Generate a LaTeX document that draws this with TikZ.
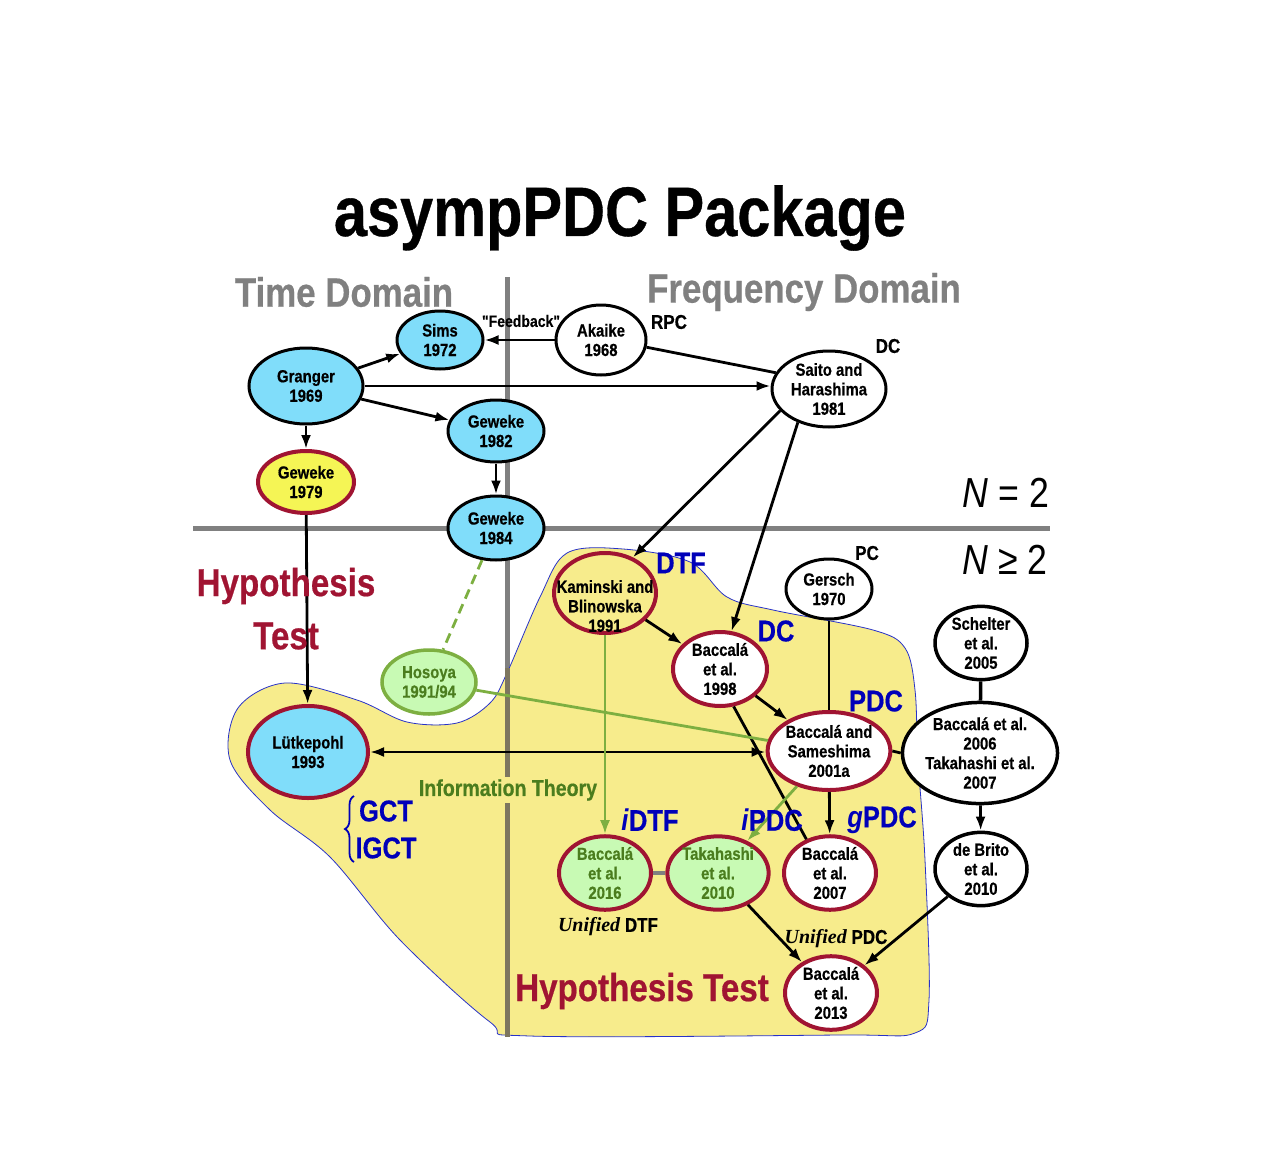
\documentclass[tikz,border=0pt]{standalone}
\usepackage{fontspec}
\setmainfont{Liberation Sans}[FakeStretch=0.85,BoldFeatures={FakeBold=0.5}]
\newfontfamily\plainf{Liberation Sans}[FakeStretch=0.85,Ligatures=TeXOff,BoldFeatures={FakeBold=0.5}]
\newfontfamily\uniserif{Liberation Serif}
\usetikzlibrary{shapes.geometric,arrows.meta,decorations.pathreplacing}
\definecolor{cyanc}{RGB}{128,221,250}
\definecolor{redc}{RGB}{160,20,50}
\definecolor{yelc}{RGB}{245,245,85}
\definecolor{regc}{RGB}{247,236,140}
\definecolor{grnf}{RGB}{200,250,180}
\definecolor{grnd}{RGB}{125,175,65}
\definecolor{grnt}{RGB}{75,125,30}
\definecolor{bluec}{RGB}{0,0,185}
\definecolor{grayc}{RGB}{128,128,128}
\definecolor{olivec}{RGB}{125,118,95}
\definecolor{bordc}{RGB}{40,50,200}
\begin{document}
\begin{tikzpicture}[x=1pt,y=-1pt,
  nd/.style={ellipse,draw=black,line width=3pt,inner sep=0pt,align=center,
    font=\fontsize{17.5}{19.5}\selectfont\bfseries},
  cy/.style={nd,fill=cyanc},
  wh/.style={nd,fill=white},
  rb/.style={draw=redc,line width=4pt},
  gn/.style={nd,fill=grnf,text=grnt},
  sz/.style 2 args={minimum width=#1pt,minimum height=#2pt},
  ln/.style={line width=2.8pt},
  arr/.style={line width=2.8pt,-{Latex[length=14pt,width=10pt]}},
  garr/.style={line width=2.8pt,draw=grnd,-{Latex[length=14pt,width=10pt,fill=grnd]}},
  gtip/.style={line width=2.8pt,-{Latex[length=14pt,width=10pt,fill=grnd]}},
  lab/.style={font=\fontsize{20}{22}\selectfont\bfseries,inner sep=0pt},
  blab/.style={font=\fontsize{30}{32}\selectfont\bfseries,text=bluec,inner sep=0pt},
  rlab/.style={font=\fontsize{39}{44}\selectfont\bfseries,text=redc,inner sep=0pt},
  hlab/.style={font=\fontsize{41}{44}\selectfont\bfseries,text=grayc,inner sep=0pt},
  nlab/.style={font=\fontsize{42}{44}\selectfont,inner sep=0pt},
  ulab/.style={font=\fontsize{20}{22}\selectfont\bfseries,inner sep=0pt}
]
\useasboundingbox (0,0) rectangle (1277,1175);

% domain separators
\draw[grayc,line width=5pt] (507,277) -- (507,1037);
\draw[grayc,line width=5pt] (193,528) -- (1050,528);

% yellow region
\filldraw[fill=regc,draw=bordc,line width=0.8pt] plot[smooth cycle,tension=0.55] coordinates {
 (567,553) (623,549) (690,562) (727,597) (773,610) (873,630) (905,648) (915,690)
 (918,760) (925,860) (929,1000) (915,1033) (840,1035) (530,1036) (490,1022)
 (400,940) (330,857) (270,810) (230,760) (238,708) (285,683) (357,700)
 (407,722) (457,723) (490,703) (507,673) (540,597)};
\draw[olivec,line width=5pt] (507,668) -- (507,1037);

% nodes
\node[cy,sz={86}{58}] (sims) at (440,340) {Sims\\1972};
\node[wh,sz={90}{70}] (aka) at (601,340) {Akaike\\1968};
\node[cy,sz={114}{76}] (gra) at (306,386) {Granger\\1969};
\node[wh,sz={114}{76}] (sai) at (829,389) {Saito and\\Harashima\\1981};
\node[cy,sz={96}{62}] (g82) at (496,431) {Geweke\\1982};
\node[nd,fill=yelc,rb,sz={96}{62}] (g79) at (306,482) {Geweke\\1979};
\node[cy,sz={96}{64}] (g84) at (496,528) {Geweke\\1984};
\node[nd,fill=regc,rb,sz={102}{80}] (kam) at (605,593) {};
\node[nd,draw=none,fill=none] (kamt) at (605,606) {Kaminski and\\Blinowska\\1991};
\node[wh,sz={86}{60}] (ger) at (829,589) {Gersch\\1970};
\node[wh,rb,sz={94}{74}] (b98) at (720,669) {Baccalá\\et al.\\1998};
\node[wh,line width=3.5pt,sz={92}{72}] (sch) at (981,643) {Schelter\\et al.\\2005};
\node[gn,draw=grnd,line width=3.5pt,sz={94}{64}] (hos) at (429,682) {Hosoya\\1991/94};
\node[cy,rb,sz={120}{92}] (lut) at (308,752) {Lütkepohl\\1993};
\node[wh,rb,sz={106}{78}] (sam) at (829,751) {Baccalá and\\Sameshima\\2001a};
\node[wh,line width=3.5pt,sz={126}{94}] (b06) at (980,753) {Baccalá et al.\\2006\\Takahashi et al.\\2007};
\node[gn,rb,sz={92}{72}] (b16) at (605,873) {Baccalá\\et al.\\2016};
\node[gn,rb,sz={92}{72}] (tak) at (718,873) {Takahashi\\et al.\\2010};
\node[wh,rb,sz={92}{72}] (b07) at (830,873) {Baccalá\\et al.\\2007};
\node[wh,line width=3.5pt,sz={92}{70}] (dbr) at (981,869) {de Brito\\et al.\\2010};
\node[wh,rb,sz={92}{72}] (b13) at (831,993) {Baccalá\\et al.\\2013};

% edges
\draw[gtip] (gra) -- (sims);
\draw[gtip] (aka) -- (sims);
\draw[ln] (aka.-9) -- (sai.163);
\draw[arr] (gra.east) -- (gra.east -| sai.west);
\draw[arr] (gra) -- (g82);
\draw[arr] (gra) -- (g79);
\draw[arr] (g82) -- (g84);
\draw[arr] (g79) -- (lut);
\draw[arr] (sai.-156) -- (kam.52);
\draw[arr] (sai.-133) -- (b98.73);
\draw[arr] (kam) -- (b98);
\draw[arr] (b98) -- (sam);
\draw[ln] (b98.-70) -- (b07.125);
\draw[ln] (ger) -- (sam);
\draw[line width=2.8pt,{Latex[length=14pt,width=10pt]}-{Latex[length=14pt,width=10pt]}] (lut.east) -- (lut.east -| sam.west);
\draw[ln] (sam.east) -- (b06.west);
\draw[arr] (sam) -- (b07);
\draw[garr] (sam) -- (tak);
\draw[ln,draw=grnd] (hos) -- (sam);
\draw[ln,draw=grnd,dash pattern=on 10pt off 6pt] (g84) -- (hos);
\draw[garr] (kam) -- (b16);
\draw[line width=3.5pt,draw=grayc] (b16) -- (tak);
\draw[arr] (tak) -- (b13);
\draw[arr] (dbr) -- (b13);
\draw[line width=3.5pt] (sch) -- (b06);
\draw[arr] (b06) -- (dbr);

% labels
\node[font=\fontsize{70}{74}\selectfont\bfseries,inner sep=0pt] (title) at (620,218) {asympPDC Package};
\node[hlab] (td) at (344,292) {Time Domain};
\node[hlab] (fd) at (804,292) {Frequency Domain};
\node[font=\plainf\fontsize{16.5}{18}\selectfont\bfseries,inner sep=0pt] (fb) at (521,321) {"Feedback"};
\node[lab] (rpc) at (669,322) {RPC};
\node[lab] (dc1) at (888,346) {DC};
\node[lab] (pc) at (867,553) {PC};
\node[nlab] (n2) at (1006,493) {\textit{N} = 2};
\node[nlab] (ng2) at (1005,560) {\textit{N} ≥ 2};
\node[rlab] (hy1) at (286,586) {Hypothesis};
\node[rlab] (hy2) at (286,636) {Test};
\node[rlab] (hy3) at (642,991) {Hypothesis Test};
\node[blab] (dtf) at (681,563) {DTF};
\node[blab] (dc2) at (776,631) {DC};
\node[blab] (pdc) at (876,701) {PDC};
\node[blab] (idtf) at (650,820) {\textit{i}DTF};
\node[blab] (ipdc) at (772,820) {\textit{i}PDC};
\node[blab] (gpdc) at (882,820) {\textit{g}PDC};
\node[font=\fontsize{23}{25}\selectfont\bfseries,text=grnt,fill=regc,inner sep=2pt] (it) at (508,790) {Information Theory};
\node[blab] (gct) at (386,811) {GCT};
\node[blab] (igct) at (386,848) {IGCT};
\draw[bluec,line width=1.8pt,decorate,decoration={brace,amplitude=9pt}] (354,862) -- (354,796);
\node[ulab] (udtf) at (608,927) {{\uniserif\bfseries\itshape Unified} DTF};
\node[ulab] (updc) at (836,939) {{\uniserif\bfseries\itshape Unified} PDC};
\end{tikzpicture}
\end{document}
